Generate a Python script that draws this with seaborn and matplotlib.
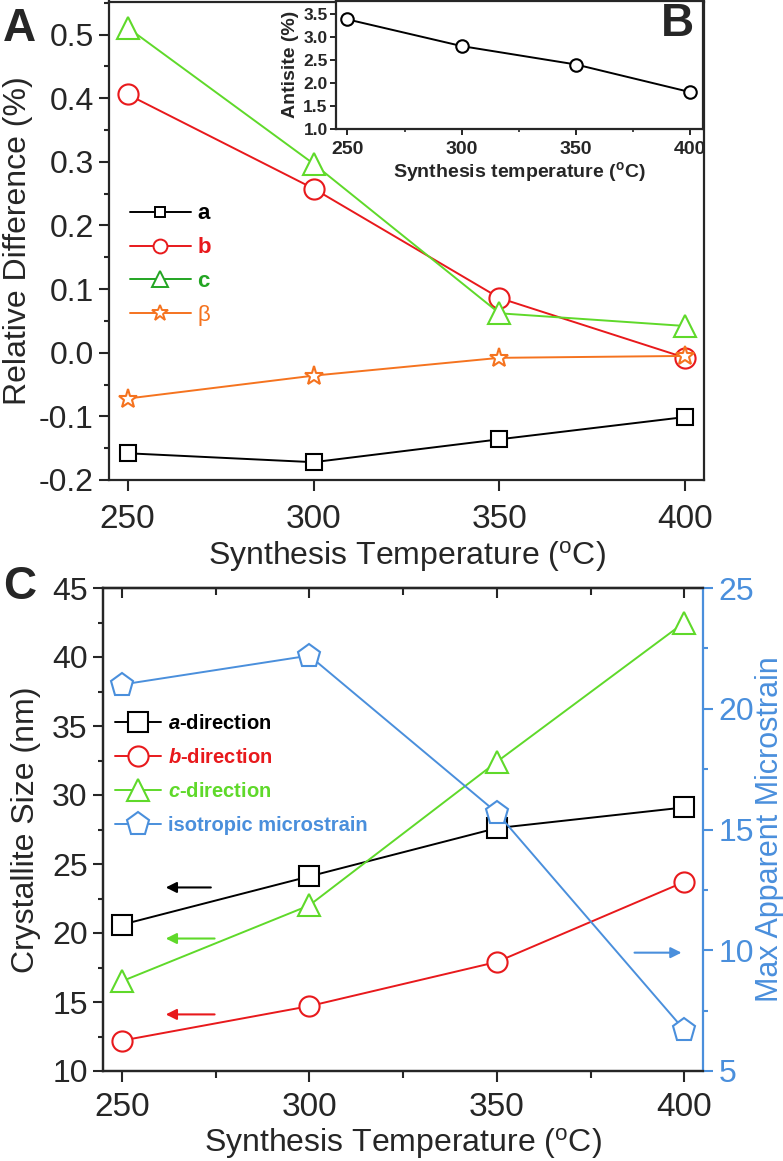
import matplotlib
matplotlib.use("Agg")
import matplotlib.pyplot as plt
from matplotlib.lines import Line2D
from matplotlib.ticker import MultipleLocator, FormatStrFormatter
import seaborn as sns

# synthesis temperatures (C)
temps = [250, 300, 350, 400]

# Panel A: relative difference of lattice parameters (%)
rel_a = [-0.158, -0.172, -0.136, -0.101]
rel_b = [0.406, 0.258, 0.086, -0.008]
rel_c = [0.511, 0.297, 0.062, 0.042]
rel_beta = [-0.072, -0.036, -0.008, -0.005]

# Panel B: antisite fraction (%)
antisite = [3.38, 2.80, 2.40, 1.80]

# Panel C: crystallite size (nm) and microstrain
size_a = [20.6, 24.1, 27.6, 29.1]
size_b = [12.2, 14.7, 17.9, 23.7]
size_c = [16.5, 22.0, 32.4, 42.5]
microstrain = [21.0, 22.2, 15.7, 6.7]

# arrows pointing at the axis each series belongs to: (x_tail, x_head, y)
arrows_left = [(274.5, 261, 23.3), (275.5, 261, 19.6), (275.5, 261, 14.1)]
arrow_right = (386, 400, 9.9)

BLACK = "#000000"
RED = "#e8191c"
LIME = "#5fd92a"
GREEN_DARK = "#23a523"
ORANGE = "#f5731f"
BLUE = "#4a8fdc"

sns.set_style("ticks")
plt.rcParams["font.family"] = ["Liberation Sans", "DejaVu Sans"]
plt.rcParams["axes.unicode_minus"] = False
plt.rcParams["mathtext.fontset"] = "custom"
plt.rcParams["mathtext.rm"] = "Liberation Sans"
plt.rcParams["mathtext.it"] = "Liberation Sans:italic"
plt.rcParams["mathtext.bf"] = "Liberation Sans:bold"
plt.rcParams["mathtext.bfit"] = "Liberation Sans:italic:bold"
plt.rcParams["axes.linewidth"] = 1.6

W, H = 783, 1161
fig = plt.figure(figsize=(W / 100, H / 100), dpi=100)


def box(left, top, right, bottom):
    return [left / W, 1 - bottom / H, (right - left) / W, (bottom - top) / H]


def draw(ax, y, color, marker, ms, label=None):
    sns.lineplot(x=temps, y=y, ax=ax, color=color, marker=marker, markersize=ms,
                 markerfacecolor="white", markeredgecolor=color, markeredgewidth=1.5,
                 linewidth=1.4, label=label)


# ---------------- Panel A ----------------
axA = fig.add_axes(box(109, 1.5, 704, 480))
draw(axA, rel_a, BLACK, "s", 12)
draw(axA, rel_b, RED, "o", 14.5)
draw(axA, rel_c, LIME, "^", 16)
draw(axA, rel_beta, ORANGE, "*", 14)
axA.set_xlim(245, 405)
axA.set_ylim(-0.2, 0.552)
axA.xaxis.set_major_locator(MultipleLocator(50))
axA.yaxis.set_major_locator(MultipleLocator(0.1))
axA.yaxis.set_minor_locator(MultipleLocator(0.05))
axA.yaxis.set_major_formatter(FormatStrFormatter("%.1f"))
axA.tick_params(axis="x", which="major", direction="out", length=8, width=1.5, labelsize=24, pad=9)
axA.tick_params(axis="y", which="major", direction="out", length=7, width=1.5, labelsize=23, pad=4)
axA.tick_params(axis="y", which="minor", direction="out", length=3.5, width=1.5)
axA.set_xlabel("Synthesis Temperature ($^{\\rm o}$C)", fontsize=23, labelpad=3)
axA.set_ylabel("Relative Difference (%)", fontsize=23, labelpad=4)

legA_handles = [
    Line2D([], [], color=BLACK, marker="s", ms=7, mfc="white", mec=BLACK, mew=1.4, lw=1.4),
    Line2D([], [], color=RED, marker="o", ms=10, mfc="white", mec=RED, mew=1.4, lw=1.4),
    Line2D([], [], color=GREEN_DARK, marker="^", ms=11, mfc="white", mec=GREEN_DARK, mew=1.4, lw=1.4),
    Line2D([], [], color=ORANGE, marker="*", ms=12, mfc="white", mec=ORANGE, mew=1.4, lw=1.4),
]
legA = axA.legend(legA_handles, ["a", "b", "c", "β"], loc="upper left",
                  bbox_to_anchor=(0.035, 0.578), frameon=False, fontsize=16,
                  handlelength=2.75, handletextpad=0.3, labelspacing=0.58,
                  borderpad=0, borderaxespad=0, labelcolor="linecolor")
for t in legA.get_texts()[:3]:
    t.set_fontweight("bold")

# ---------------- Panel B (inset) ----------------
axB = fig.add_axes(box(336, 0.5, 703, 129))
sns.lineplot(x=temps, y=antisite, ax=axB, color=BLACK, marker="o", markersize=9,
             markerfacecolor="white", markeredgecolor=BLACK, markeredgewidth=1.5, linewidth=1.4)
axB.set_xlim(245, 405.5)
axB.set_ylim(1.0, 3.79)
axB.xaxis.set_major_locator(MultipleLocator(50))
axB.xaxis.set_minor_locator(MultipleLocator(25))
axB.yaxis.set_major_locator(MultipleLocator(0.5))
axB.yaxis.set_major_formatter(FormatStrFormatter("%.1f"))
axB.tick_params(axis="both", which="major", direction="out", length=4, width=1.4, pad=2)
axB.tick_params(axis="x", which="major", pad=5)
axB.tick_params(axis="x", which="minor", direction="out", length=2.5, width=1.2)
axB.tick_params(axis="x", labelsize=14)
axB.tick_params(axis="y", labelsize=12.5)
for lbl in axB.get_xticklabels() + axB.get_yticklabels():
    lbl.set_fontweight("bold")
axB.set_xlabel("Synthesis temperature ($^{\\mathbf{o}}$C)", fontsize=14, fontweight="bold", labelpad=1)
axB.set_ylabel("Antisite (%)", fontsize=14, fontweight="bold", labelpad=3)

# ---------------- Panel C ----------------
axC = fig.add_axes(box(103, 588, 703, 1071))
draw(axC, size_a, BLACK, "s", 14, r"$\mathbfit{a}$-direction")
draw(axC, size_b, RED, "o", 14.5, r"$\mathbfit{b}$-direction")
draw(axC, size_c, LIME, "^", 16, r"$\mathbfit{c}$-direction")
axC.set_xlim(245, 405)
axC.set_ylim(10, 45)
axC.xaxis.set_major_locator(MultipleLocator(50))
axC.xaxis.set_minor_locator(MultipleLocator(25))
axC.yaxis.set_major_locator(MultipleLocator(5))
axC.yaxis.set_minor_locator(MultipleLocator(2.5))
axC.tick_params(axis="x", which="major", direction="out", length=8, width=1.5, labelsize=24, pad=7)
axC.tick_params(axis="x", which="minor", direction="out", length=5, width=1.5)
axC.tick_params(axis="y", which="major", direction="out", length=7, width=1.5, labelsize=23, pad=4)
axC.tick_params(axis="y", which="minor", direction="out", length=3.5, width=1.5)
axC.set_xlabel("Synthesis Temperature ($^{\\rm o}$C)", fontsize=23, labelpad=2)
axC.set_ylabel("Crystallite Size (nm)", fontsize=23, labelpad=8)
axC.spines["right"].set_visible(False)

top = axC.secondary_xaxis("top")
top.xaxis.set_major_locator(MultipleLocator(50))
top.xaxis.set_minor_locator(MultipleLocator(25))
top.tick_params(which="major", direction="in", length=7, width=1.5, labeltop=False)
top.tick_params(which="minor", direction="in", length=5, width=1.5)

ax2 = axC.twinx()
draw(ax2, microstrain, BLUE, "p", 17, "isotropic microstrain")
ax2.set_ylim(5, 25)
ax2.yaxis.set_major_locator(MultipleLocator(5))
ax2.yaxis.set_minor_locator(MultipleLocator(2.5))
ax2.tick_params(axis="y", which="major", direction="out", length=7, width=1.5,
                labelsize=23, pad=4, color=BLUE, labelcolor=BLUE)
ax2.tick_params(axis="y", which="minor", direction="out", length=3.5, width=1.5, color=BLUE)
ax2.spines["right"].set_color(BLUE)
ax2.set_ylabel("Max Apparent Microstrain", fontsize=22, color=BLUE, labelpad=1)

for (x0, x1, y), col in zip(arrows_left, [BLACK, LIME, RED]):
    axC.annotate("", xy=(x1, y), xytext=(x0, y),
                 arrowprops=dict(arrowstyle="-|>", color=col, lw=1.5, mutation_scale=16))
x0, x1, y = arrow_right
ax2.annotate("", xy=(x1, y), xytext=(x0, y),
             arrowprops=dict(arrowstyle="-|>", color=BLUE, lw=1.5, mutation_scale=16))

h1, l1 = axC.get_legend_handles_labels()
h2, l2 = ax2.get_legend_handles_labels()
if axC.get_legend() is not None:
    axC.get_legend().remove()
ax2.legend(h1 + h2, l1 + l2, loc="upper left", bbox_to_anchor=(0.02, 0.74),
           frameon=False, prop={"size": 14.5, "weight": "bold"},
           handlelength=2.3, handletextpad=0.35, labelspacing=0.75,
           borderpad=0, borderaxespad=0, labelcolor="linecolor")

# panel letters
fig.text(19 / W, 1 - 29 / H, "A", fontsize=33, fontweight="bold", ha="center", va="center")
fig.text(677 / W, 1 - 24 / H, "B", fontsize=33, fontweight="bold", ha="center", va="center")
fig.text(20 / W, 1 - 587 / H, "C", fontsize=33, fontweight="bold", ha="center", va="center")

fig.savefig("out.png", dpi=100)
